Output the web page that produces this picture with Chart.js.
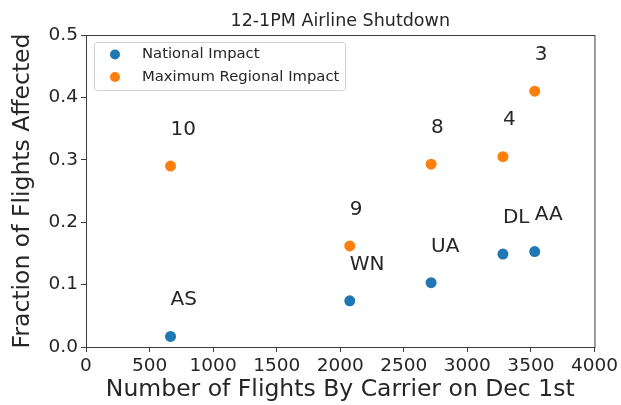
<!DOCTYPE html>
<html lang="en">
<head>
    <meta charset="UTF-8">
    <title>12-1PM Airline Shutdown</title>
    <script src="https://cdn.jsdelivr.net/npm/chart.js"></script>
    <style>
        body, html { margin: 0; padding: 0; background: #fff; overflow: hidden; }
        #chartCanvas { display: block; }
    </style>
</head>
<body>
    <canvas id="chartCanvas" width="621" height="405"></canvas>

    <script>
        // values
        const carriers = ['AS', 'WN', 'UA', 'DL', 'AA'];
        const flightsDec1 = [665, 2075, 2715, 3280, 3530];
        const nationalImpact = [0.017, 0.074, 0.103, 0.149, 0.153];
        const regionalImpact = [0.290, 0.162, 0.293, 0.305, 0.410];
        const regionCounts = ['10', '9', '8', '4', '3'];
        const xTicks = [0, 500, 1000, 1500, 2000, 2500, 3000, 3500, 4000];
        const yTicks = [0.0, 0.1, 0.2, 0.3, 0.4, 0.5];

        const BLUE = '#1f77b4', ORANGE = '#ff7f0e', INK = '#262626', AXIS = '#3c3c3c';
        const FONT = "'DejaVu Sans', sans-serif";

        const points = (ys) => flightsDec1.map((x, i) => ({ x: x, y: ys[i] }));

        // frame, point labels, title and legend drawn like matplotlib does
        const extras = {
            id: 'extras',
            afterDatasetsDraw(chart) {
                const ctx = chart.ctx, a = chart.chartArea;
                const xs = chart.scales.x, ys = chart.scales.y;
                ctx.save();

                ctx.strokeStyle = AXIS;
                ctx.lineWidth = 1;
                ctx.strokeRect(a.left + 0.5, a.top + 0.5, a.right - a.left, a.bottom - a.top);

                // legend box (upper left, drawn before the labels)
                const lx = a.left + 8, ly = a.top + 7, lw = 251, lh = 48;
                ctx.fillStyle = 'rgba(255,255,255,0.85)';
                ctx.strokeStyle = '#d0d0d0';
                ctx.beginPath();
                ctx.roundRect(lx + 0.5, ly + 0.5, lw, lh, 3);
                ctx.fill();
                ctx.stroke();
                ctx.font = '14.8px ' + FONT;
                ctx.textAlign = 'left';
                ctx.textBaseline = 'middle';
                chart.data.datasets.forEach((ds, i) => {
                    const cy = ly + 12.5 + i * 22.5;
                    ctx.fillStyle = ds.backgroundColor;
                    ctx.beginPath();
                    ctx.arc(lx + 21, cy, 5, 0, Math.PI * 2);
                    ctx.fill();
                    ctx.fillStyle = INK;
                    ctx.fillText(ds.label, lx + 48, cy);
                });

                ctx.fillStyle = INK;
                ctx.font = '20px ' + FONT;
                ctx.textAlign = 'left';
                ctx.textBaseline = 'alphabetic';
                flightsDec1.forEach((x, i) => {
                    ctx.fillText(carriers[i], xs.getPixelForValue(x), ys.getPixelForValue(nationalImpact[i] + 0.05));
                    ctx.fillText(regionCounts[i], xs.getPixelForValue(x), ys.getPixelForValue(regionalImpact[i] + 0.05));
                });

                ctx.font = '17.5px ' + FONT;
                ctx.textAlign = 'center';
                ctx.fillText('12-1PM Airline Shutdown', (a.left + a.right) / 2, 26);
                ctx.restore();
            }
        };

        new Chart(document.getElementById('chartCanvas'), {
            type: 'scatter',
            data: { datasets: [
                { label: 'National Impact', data: points(nationalImpact), backgroundColor: BLUE, borderWidth: 0, pointRadius: 5.5 },
                { label: 'Maximum Regional Impact', data: points(regionalImpact), backgroundColor: ORANGE, borderWidth: 0, pointRadius: 5.5 }
            ]},
            options: {
                responsive: false,
                animation: false,
                devicePixelRatio: 1,
                layout: { padding: { left: 0, right: 25, top: 35, bottom: 0 } },
                plugins: { legend: { display: false }, tooltip: { enabled: false } },
                scales: {
                    x: {
                        type: 'linear', min: 0, max: 4000,
                        afterBuildTicks: (s) => { s.ticks = xTicks.map(v => ({ value: v })); },
                        afterFit: (s) => { s.height = 58; },
                        ticks: { color: INK, font: { family: FONT, size: 18.5 }, padding: 3, maxRotation: 0, autoSkip: false,
                                 callback: (v) => String(v) },
                        grid: { drawOnChartArea: false, tickLength: 5, color: AXIS },
                        border: { color: AXIS },
                        title: { display: true, text: 'Number of Flights By Carrier on Dec 1st', color: INK,
                                 font: { family: FONT, size: 23.5 }, padding: { top: 0, bottom: 1 } }
                    },
                    y: {
                        type: 'linear', min: 0, max: 0.5,
                        afterBuildTicks: (s) => { s.ticks = yTicks.map(v => ({ value: v })); },
                        afterFit: (s) => { s.width = 86; },
                        ticks: { color: INK, font: { family: FONT, size: 18.5 }, padding: 3, autoSkip: false,
                                 callback: (v) => v.toFixed(1) },
                        grid: { drawOnChartArea: false, tickLength: 5, color: AXIS },
                        border: { color: AXIS },
                        title: { display: true, text: 'Fraction of Flights Affected', color: INK,
                                 font: { family: FONT, size: 23.5 }, padding: { top: 9, bottom: 0 } }
                    }
                }
            },
            plugins: [extras]
        });
    </script>
</body>
</html>
